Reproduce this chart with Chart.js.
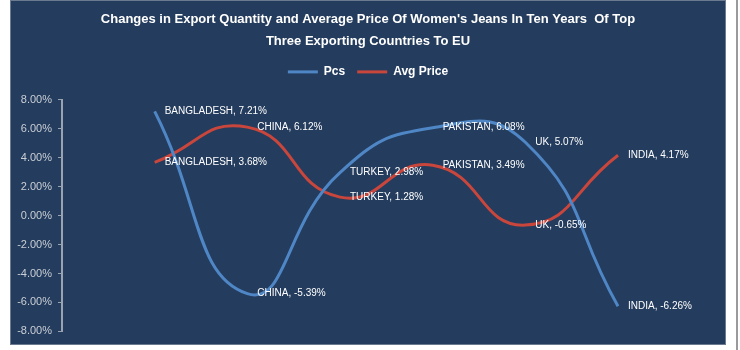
<!DOCTYPE html>
<html>
<head>
<meta charset="utf-8">
<script src="https://cdn.jsdelivr.net/npm/chart.js@4.4.1/dist/chart.umd.min.js"></script>
<style>
body{margin:0;background:#fff;width:740px;height:350px;overflow:hidden;position:relative}
#panel{position:absolute;left:10px;top:0;width:714px;height:343px;background:#243c5d;border:1px solid #6b7a8e}
#rule{position:absolute;left:736px;top:0;width:2px;height:350px;background:#9a9a9a}
</style>
</head>
<body>
<div id="panel"><canvas id="chart"></canvas></div>
<div id="rule"></div>
<script>
var countries = ['BANGLADESH', 'CHINA', 'TURKEY', 'PAKISTAN', 'UK', 'INDIA'];
var pcs = [7.21, -5.39, 2.98, 6.08, 5.07, -6.26];
var avgPrice = [3.68, 6.12, 1.28, 3.49, -0.65, 4.17];
var yTicks = [-8, -6, -4, -2, 0, 2, 4, 6, 8];

// blank slot in front so the first country sits one step right of the axis
var labels = [''].concat(countries);

// "COUNTRY, x.xx%" next to every point
var pointLabels = {
  id: 'pointLabels',
  afterDatasetsDraw: function(chart) {
    var ctx = chart.ctx;
    ctx.save();
    ctx.font = '10px "Liberation Sans", Arial, sans-serif';
    ctx.fillStyle = '#ffffff';
    ctx.textAlign = 'left';
    ctx.textBaseline = 'middle';
    chart.data.datasets.forEach(function(ds, i) {
      chart.getDatasetMeta(i).data.forEach(function(pt, j) {
        var v = ds.data[j];
        if (v === null) return;
        ctx.fillText(chart.data.labels[j] + ', ' + v.toFixed(2) + '%', pt.x + 10, pt.y);
      });
    });
    ctx.restore();
  }
};

// a bit more room under the legend
var legendGap = {
  id: 'legendGap',
  beforeInit: function(chart) {
    var fit = chart.legend.fit;
    chart.legend.fit = function() {
      fit.bind(chart.legend)();
      this.height += 12;
    };
  }
};

var ctx = document.getElementById('chart').getContext('2d');
var chart = new Chart(ctx, {
  type: 'line',
  data: {
    labels: labels,
    datasets: [{
      label: 'Pcs',
      data: [null].concat(pcs),
      borderColor: '#4f86c6',
      backgroundColor: '#4f86c6',
      borderWidth: 3,
      pointRadius: 0,
      tension: 0.5
    }, {
      label: 'Avg Price',
      data: [null].concat(avgPrice),
      borderColor: '#c9463d',
      backgroundColor: '#c9463d',
      borderWidth: 3,
      pointRadius: 0,
      tension: 0.5
    }]
  },
  options: {
    responsive: true,
    maintainAspectRatio: false,
    animation: false,
    layout: { padding: { left: 0, right: 0, top: 0, bottom: 12 } },
    plugins: {
      title: {
        display: true,
        text: ["Changes in Export Quantity and Average Price Of Women's Jeans In Ten Years  Of Top",
               'Three Exporting Countries To EU'],
        color: '#ffffff',
        font: { family: '"Liberation Sans", sans-serif', size: 13, weight: 'bold', lineHeight: 1.65 },
        padding: { top: 8, bottom: 2 }
      },
      legend: {
        display: true,
        position: 'top',
        labels: {
          color: '#ffffff',
          boxWidth: 30,
          boxHeight: 3,
          padding: 12,
          font: { family: '"Liberation Sans", sans-serif', size: 12, weight: 'bold' },
          generateLabels: function(chart) {
            var items = Chart.defaults.plugins.legend.labels.generateLabels(chart);
            items.forEach(function(it) { it.lineWidth = 0; });
            return items;
          }
        }
      },
      tooltip: { enabled: false }
    },
    scales: {
      x: {
        display: false,
        offset: false
      },
      y: {
        min: -8,
        max: 8,
        afterBuildTicks: function(scale) {
          scale.ticks = yTicks.map(function(v) { return { value: v }; });
        },
        afterFit: function(scale) { scale.width = 51; },
        ticks: {
          color: '#c9ced6',
          padding: 6,
          font: { family: '"Liberation Sans", Arial, sans-serif', size: 11 },
          callback: function(v) { return v.toFixed(2) + '%'; }
        },
        grid: {
          drawOnChartArea: false,
          drawTicks: true,
          tickLength: 4,
          color: '#9aa3b0'
        },
        border: { display: true, color: '#9aa3b0', width: 2 }
      },
      // empty right-hand strip that holds the point labels past the last point
      side: {
        position: 'right',
        display: true,
        ticks: { display: false },
        grid: { display: false },
        border: { display: false },
        afterFit: function(scale) { scale.width = 107; }
      }
    }
  },
  plugins: [pointLabels, legendGap]
});
</script>
</body>
</html>
